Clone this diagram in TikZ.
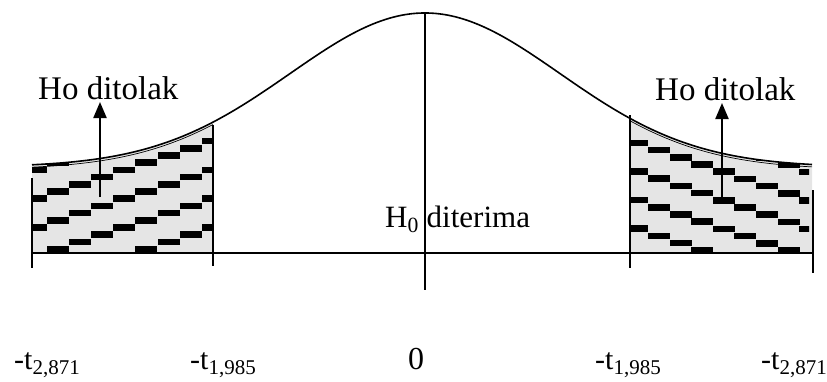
\documentclass[tikz,border=0pt]{standalone}
\usepackage{fontspec}
\setmainfont{Liberation Serif}
\usetikzlibrary{arrows.meta}
\newcommand\curvey[1]{167-154*exp(-(((#1)-425)/135)*(((#1)-425)/135)/2)}
\tikzset{
  axisline/.style={line width=1.3pt, draw=black},
  curveline/.style={line width=1.6pt, draw=black},
  regionfill/.style={fill=black!10},
  brick/.style={fill=black},
  uparrow/.style={line width=2.2pt, -{Triangle[width=13pt,length=16pt]}},
  lbl/.style={inner sep=0pt, anchor=base west, font=\fontsize{30}{34}\selectfont},
  biglbl/.style={inner sep=0pt, anchor=base west, font=\fontsize{33}{38}\selectfont},
}
\begin{document}
\begin{tikzpicture}[x=1pt,y=-1pt]
\useasboundingbox (0,0) rectangle (827,381);

% left shaded region
\fill[regionfill] (32,253) -- plot[domain=32:213,samples=60] (\x,{\curvey{\x}}) -- (213,253) -- cycle;
\begin{scope}
  \clip (32,253) -- plot[domain=32:213,samples=60] (\x,{\curvey{\x}}) -- (213,253) -- cycle;
  \foreach \k in {-3,...,4}{
    \foreach \j in {-3,...,8}{
      \pgfmathsetmacro\bx{58+22.1*\j}
      \pgfmathsetmacro\by{191.5-7.2*\j+28.8*\k}
      \fill[brick] (\bx-11,\by-3.3) rectangle (\bx+11,\by+3.3);
    }
  }
\end{scope}

% right shaded region
\fill[regionfill] (630,253) -- plot[domain=630:812,samples=60] (\x,{\curvey{\x}}) -- (812,253) -- cycle;
\begin{scope}
  \clip (630,253) -- plot[domain=630:812,samples=60] (\x,{\curvey{\x}}) -- (809,{\curvey{809}}) -- (809,253) -- cycle;
  \foreach \k in {-3,...,4}{
    \foreach \j in {-3,...,9}{
      \pgfmathsetmacro\bx{659+21.6*\j}
      \pgfmathsetmacro\by{150+7.2*\j+28.6*\k}
      \fill[brick] (\bx-11,\by-3.3) rectangle (\bx+11,\by+3.3);
    }
  }
\end{scope}

% curve
\draw[curveline] plot[domain=32:812,samples=200] (\x,{\curvey{\x}});
\draw[line width=0.7pt] plot[domain=32:213,samples=60] (\x,{\curvey{\x}+2.4});
\draw[line width=0.7pt] plot[domain=630:812,samples=60] (\x,{\curvey{\x}+2.4});

% axis and ticks
\coordinate (axL) at (32,253);
\coordinate (axR) at (813,253);
\draw[axisline] (axL) -- (axR);
\coordinate (t1a) at (32,178);   \coordinate (t1b) at (32,268);
\coordinate (t2a) at (213,125);  \coordinate (t2b) at (213,266);
\coordinate (t3a) at (425,13);   \coordinate (t3b) at (425,290);
\coordinate (t4a) at (630,115);  \coordinate (t4b) at (630,268);
\coordinate (t5a) at (813,190);  \coordinate (t5b) at (813,273);
\draw[axisline] (t1a) -- (t1b);
\draw[axisline] (t2a) -- (t2b);
\draw[axisline] (t3a) -- (t3b);
\draw[axisline] (t4a) -- (t4b);
\draw[axisline] (t5a) -- (t5b);

% arrows
\coordinate (aL0) at (100,197); \coordinate (aL1) at (100,102);
\coordinate (aR0) at (722,197); \coordinate (aR1) at (722,103);
\draw[uparrow] (aL0) -- (aL1);
\draw[uparrow] (aR0) -- (aR1);

% texts
\node[biglbl] (hoL) at (38,99) {Ho ditolak};
\node[biglbl] (hoR) at (655,100) {Ho ditolak};
\node[lbl, font=\fontsize{31}{35}\selectfont] (h0) at (385,227) {H\textsubscript{0} diterima};

\node[lbl] (l1) at (14,369) {-t\textsubscript{2,871}};
\node[lbl] (l2) at (190,369) {-t\textsubscript{1,985}};
\node[inner sep=0pt, anchor=base west, font=\fontsize{32}{36}\selectfont] (l3) at (408,369) {0};
\node[lbl] (l4) at (595,369) {-t\textsubscript{1,985}};
\node[lbl] (l5) at (761,369) {-t\textsubscript{2,871}};
\end{tikzpicture}
\end{document}
